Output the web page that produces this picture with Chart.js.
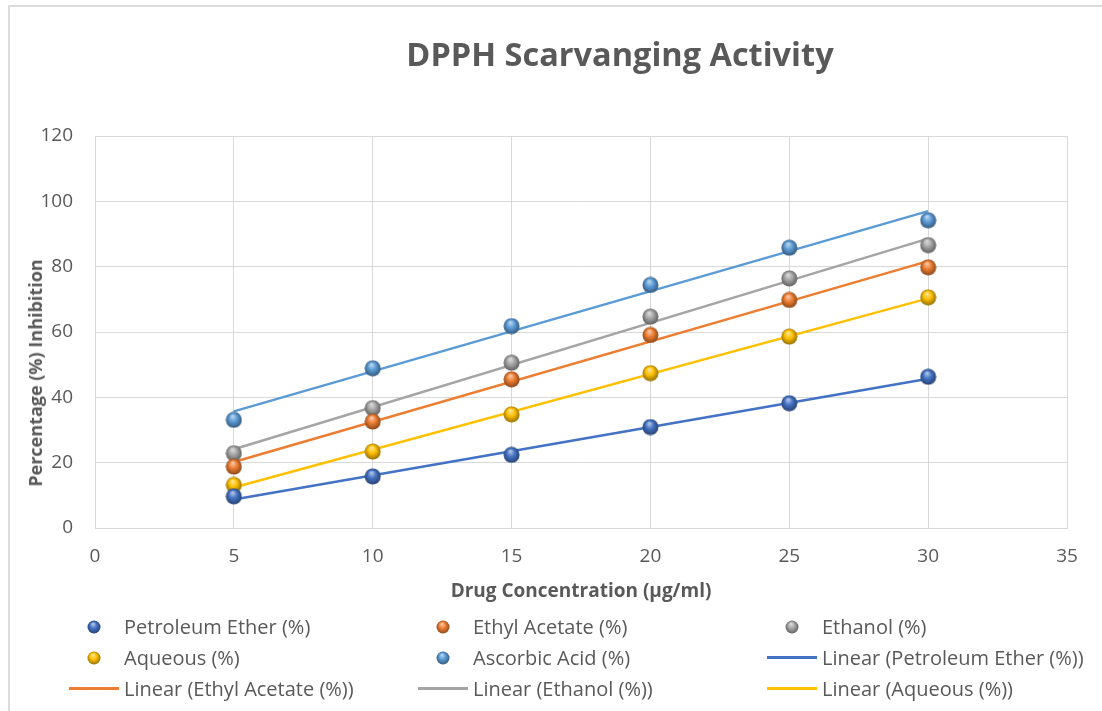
<!DOCTYPE html>
<html>
<head>
<meta charset="utf-8">
<title>DPPH Scarvanging Activity</title>
<script src="https://cdn.jsdelivr.net/npm/chart.js@4.4.0/dist/chart.umd.min.js"></script>
<style>
  body { margin: 0; background: #fff; font-family: "Open Sans", sans-serif; }
  #wrap { position: relative; width: 1102px; height: 711px; overflow: hidden; }
  #frame { position: absolute; left: 8px; top: 5px; width: 1200px; height: 800px;
           border-left: 2px solid #dcdcdc; border-top: 2px solid #dcdcdc; }
  #dpphChart { position: absolute; left: 0; top: 0; }
  #chartTitle { position: absolute; left: 0; top: 38px; width: 1240px; text-align: center;
                font: bold 32.5px/32.5px "Open Sans", sans-serif; color: #595959; }
  #yTitle { position: absolute; left: 35px; top: 373px; transform: translate(-50%, -50%) rotate(-90deg);
            white-space: nowrap; font: bold 18px/20px "Open Sans", sans-serif; color: #595959; }
  #legend { position: absolute; left: 69px; top: 611px; display: grid;
            grid-template-columns: repeat(3, 349px); grid-auto-rows: 31px; }
  .item { display: flex; align-items: center; white-space: nowrap;
          font: 20px "Open Sans", sans-serif; color: #595959; }
  .sym { width: 50px; height: 31px; display: flex; align-items: center; justify-content: center; }
  .item span.txt { margin-left: 5px; }
</style>
</head>
<body>
<div id="wrap">
  <div id="frame"></div>
  <canvas id="dpphChart" width="1102" height="711"></canvas>
  <div id="chartTitle">DPPH Scarvanging Activity</div>
  <div id="yTitle">Percentage (%) Inhibition</div>
  <div id="legend"></div>
</div>
<script>
// concentration in µg/ml
const concentrations = [5, 10, 15, 20, 25, 30];

// % inhibition per extract
const petroleumEther = [9.7, 15.8, 22.4, 30.9, 38.2, 46.3];
const ethylAcetate   = [18.8, 32.6, 45.5, 59.1, 69.8, 79.8];
const ethanol        = [22.9, 36.7, 50.6, 64.7, 76.4, 86.6];
const aqueous        = [13.2, 23.4, 34.8, 47.4, 58.6, 70.6];
const ascorbicAcid   = [33.1, 48.9, 61.8, 74.4, 85.8, 94.2];

const seriesNames = ['Petroleum Ether (%)', 'Ethyl Acetate (%)', 'Ethanol (%)', 'Aqueous (%)', 'Ascorbic Acid (%)'];
const seriesValues = [petroleumEther, ethylAcetate, ethanol, aqueous, ascorbicAcid];
const colors = ['#4472c4', '#ed7d31', '#a5a5a5', '#ffc000', '#5b9bd5'];

// linear trendline ends (at 5 and 30 µg/ml)
const trendStart = [8.7, 20.2, 24.1, 12.4, 35.7];
const trendEnd   = [45.7, 81.7, 88.6, 70.3, 97.0];

const xTicks = [0, 5, 10, 15, 20, 25, 30, 35];
const yTicks = [0, 20, 40, 60, 80, 100, 120];

function shade(hex, amt) {
  const n = parseInt(hex.slice(1), 16);
  const f = c => amt > 0 ? Math.round(c + (255 - c) * amt) : Math.round(c * (1 + amt));
  return 'rgb(' + f(n >> 16) + ',' + f((n >> 8) & 255) + ',' + f(n & 255) + ')';
}

// glossy ball marker, like the Excel 3D markers
function sphere(color, d) {
  const c = document.createElement('canvas');
  c.width = c.height = d;
  const g = c.getContext('2d');
  const r = d / 2;
  const grad = g.createRadialGradient(r * 0.85, r * 0.55, r * 0.05, r, r, r);
  grad.addColorStop(0, shade(color, 0.6));
  grad.addColorStop(0.45, color);
  grad.addColorStop(1, shade(color, -0.45));
  g.fillStyle = grad;
  g.beginPath();
  g.arc(r, r, r - 0.5, 0, Math.PI * 2);
  g.fill();
  return c;
}

const datasets = [];
seriesNames.forEach((name, i) => {
  datasets.push({
    label: name,
    data: concentrations.map((x, k) => ({ x: x, y: seriesValues[i][k] })),
    showLine: false,
    pointStyle: sphere(colors[i], 17),
    pointRadius: 8,
    order: 1,
    marker: colors[i]
  });
});
seriesNames.forEach((name, i) => {
  datasets.push({
    label: 'Linear (' + name + ')',
    data: [
      { x: concentrations[0], y: trendStart[i] },
      { x: concentrations[concentrations.length - 1], y: trendEnd[i] }
    ],
    showLine: true,
    borderColor: colors[i],
    borderWidth: 2.5,
    pointRadius: 0,
    order: 2,
    // the ascorbic acid trendline has no legend entry
    inLegend: i !== 4
  });
});

const htmlLegend = {
  id: 'htmlLegend',
  afterUpdate(chart) {
    const box = document.getElementById('legend');
    box.innerHTML = '';
    chart.data.datasets.forEach(ds => {
      if (ds.inLegend === false) return;
      const item = document.createElement('div');
      item.className = 'item';
      const sym = document.createElement('span');
      sym.className = 'sym';
      if (ds.marker) {
        const img = document.createElement('img');
        img.src = sphere(ds.marker, 14).toDataURL();
        sym.appendChild(img);
      } else {
        const bar = document.createElement('span');
        bar.style.cssText = 'display:block;width:50px;height:3px;background:' + ds.borderColor;
        sym.appendChild(bar);
      }
      const txt = document.createElement('span');
      txt.className = 'txt';
      txt.textContent = ds.label;
      item.appendChild(sym);
      item.appendChild(txt);
      box.appendChild(item);
    });
  }
};

const gridColor = '#d9d9d9';
const tickFont = { family: '"Open Sans", sans-serif', size: 19 };

new Chart(document.getElementById('dpphChart'), {
  type: 'scatter',
  data: { datasets: datasets },
  plugins: [htmlLegend],
  options: {
    responsive: false,
    animation: false,
    devicePixelRatio: 1,
    layout: { padding: { left: 0, top: 136, right: 35, bottom: 104 } },
    plugins: { legend: { display: false }, tooltip: { enabled: false }, title: { display: false } },
    scales: {
      x: {
        min: 0, max: 35,
        afterBuildTicks: s => { s.ticks = xTicks.map(v => ({ value: v })); },
        afterFit: s => { s.height = 79; },
        grid: { color: gridColor, lineWidth: 1, drawTicks: false },
        border: { color: gridColor },
        ticks: { color: '#595959', font: tickFont, padding: 17 },
        title: {
          display: true,
          text: 'Drug Concentration (µg/ml)',
          color: '#595959',
          font: { family: '"Open Sans", sans-serif', size: 19, weight: 'bold' }
        }
      },
      y: {
        min: 0, max: 120,
        afterBuildTicks: s => { s.ticks = yTicks.map(v => ({ value: v })); },
        afterFit: s => { s.width = 95; },
        grid: { color: gridColor, lineWidth: 1, drawTicks: false },
        border: { color: gridColor },
        ticks: { color: '#595959', font: tickFont, padding: 22 }
      }
    }
  }
});
</script>
</body>
</html>
